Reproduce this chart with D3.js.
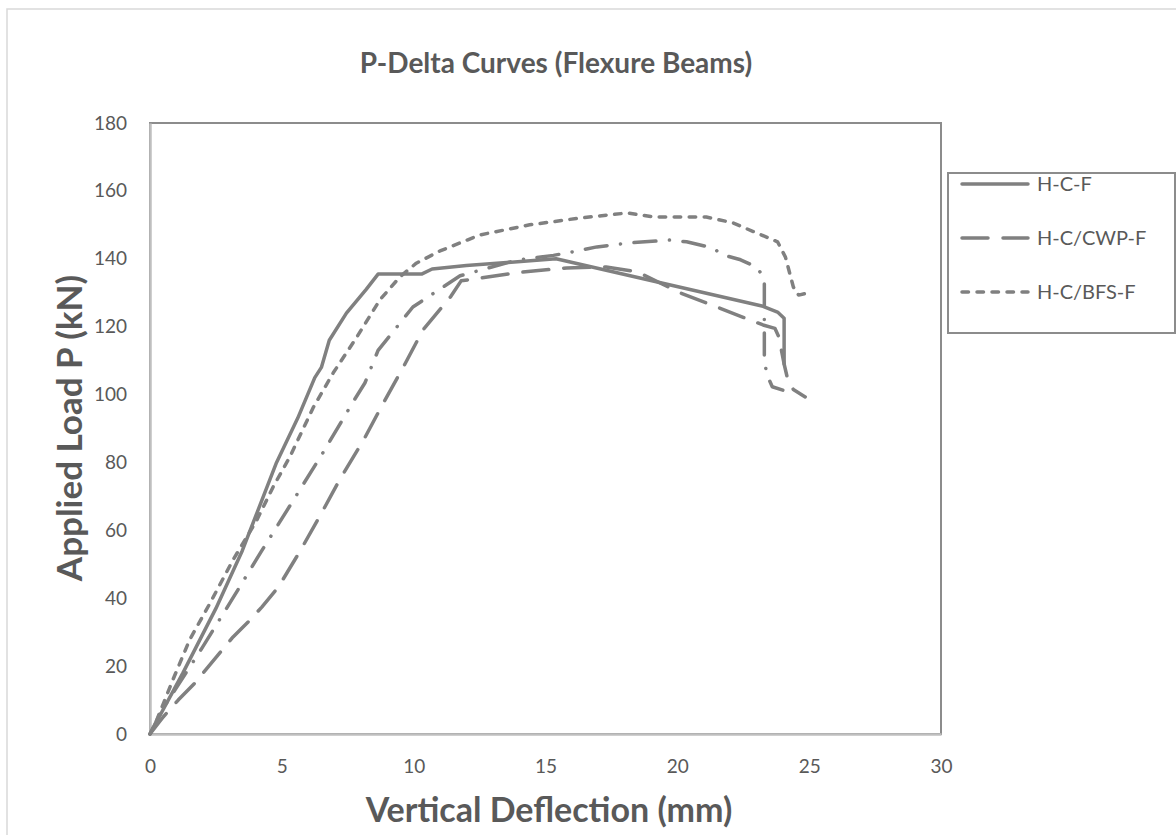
<!DOCTYPE html>
<html>
<head>
<meta charset="utf-8">
<script src="https://cdn.jsdelivr.net/npm/d3@7"></script>
<style>
  body { margin: 0; background: #fff; }
  text { font-family: Lato, "Liberation Sans", sans-serif; fill: #595959; }
</style>
</head>
<body>
<svg id="chart" width="1176" height="835"></svg>
<script>
// deflection (mm), load (kN)
let hcf = [[0,0],[1.25,18],[2.5,37],[3.5,54],[4.3,70],[4.8,80],[5.6,93],[6.25,105],[6.5,108],[6.8,116],[7.45,124],[8.2,131],[8.65,135.5],
           [10.3,135.5],[10.7,137],[12,138],[15.4,140],[23.25,126],[23.8,124.3],[24.05,122.5],[24.05,109]];
let hcCwp = [[0,0],[0.5,5],[1.07,10],[1.7,15],[3.15,28.6],[3.8,33.6],[4.24,37.4],[4.87,43.3],[5.7,54],[6.5,65],[7.2,75],[8.1,86.6],
             [8.85,97.5],[9.6,108],[10.35,119],[11.4,128.8],[11.8,133.5],[12.5,134.3],[14,136],[15.8,137.3],[17.3,137.6],[18.5,136.1],
             [20.1,130],[23.25,120.5],[23.7,119.5],[23.85,117],[24.05,109],[24.2,104],[24.4,101.5],[24.85,99.3]];
let hcBfs = [[0,0],[0.25,4],[0.87,16],[1.5,27.7],[2.28,38.6],[3.15,51.3],[4.05,63],[4.67,72.8],[5.3,81.6],[6.2,96.3],[6.95,106.4],
             [7.85,117],[8.72,127.9],[9.48,134.7],[10.1,138.7],[11,142.3],[12.5,147],[14.4,150],[16.3,152],[18.1,153.5],[19.1,152.3],
             [21.1,152.3],[22.1,150.6],[23.8,145],[24.1,140.5],[24.4,131.7],[24.6,129.3],[25,130]];
let hcOther = [[0,0],[0.45,7],[1.97,25.3],[3.1,39.5],[4.24,54],[5.4,68.4],[6.57,83],[7.7,97.8],[8.15,103.4],[8.65,113],[9.97,125.8],
               [11.76,135],[13.9,139.6],[15.3,141],[16,142],[16.95,143.5],[18.2,144.7],[19.7,145.5],[20.35,145],[21.35,143.2],
               [21.7,141.2],[22.4,139.7],[23,137.6],[23.3,134.3],[23.3,110],[23.4,105.8],[23.6,102.3],[24,101.3]];

let seriesNames = ['H-C-F','H-C/CWP-F','H-C/BFS-F',''];
let xTicks = [0,5,10,15,20,25,30];
let yTicks = [0,20,40,60,80,100,120,140,160,180];

let series = [
  {name: seriesNames[0], values: hcf,     dash: null,                legend: true},
  {name: seriesNames[1], values: hcCwp,   dash: '26,15',             legend: true},
  {name: seriesNames[2], values: hcBfs,   dash: '6.5,8.5',           legend: true},
  {name: seriesNames[3], values: hcOther, dash: '22,13.5,0.1,13.5',  legend: false}
];

let svg = d3.select('#chart');
let plot = {left: 150, right: 941, top: 123, bottom: 734};

let xScale = d3.scaleLinear().domain([0,30]).range([plot.left, plot.right]);
let yScale = d3.scaleLinear().domain([0,180]).range([plot.bottom, plot.top]);

// outer chart frame (runs off the right and bottom edges)
svg.append('rect')
  .attr('x',7).attr('y',9).attr('width',1200).attr('height',860)
  .attr('fill','none').attr('stroke','#d9d9d9').attr('stroke-width',1.5);

// plot frame
svg.append('rect')
  .attr('x',plot.left).attr('y',plot.top)
  .attr('width',plot.right-plot.left).attr('height',plot.bottom-plot.top)
  .attr('fill','none').attr('stroke','#8c8c8c').attr('stroke-width',2);

let xAxis = svg.append('g')
  .attr('transform',`translate(0,${plot.bottom})`)
  .call(d3.axisBottom(xScale).tickValues(xTicks).tickSize(0).tickPadding(26));
let yAxis = svg.append('g')
  .attr('transform',`translate(${plot.left},0)`)
  .call(d3.axisLeft(yScale).tickValues(yTicks).tickSize(0).tickPadding(23));
[xAxis, yAxis].forEach(function(a){
  a.select('.domain').attr('stroke','#bfbfbf').attr('stroke-width',2.5);
  a.selectAll('text').attr('font-size',19).attr('font-family','Lato, sans-serif').attr('fill','#595959');
});

let line = d3.line().x((d)=>xScale(d[0])).y((d)=>yScale(d[1]));

svg.append('g')
  .selectAll('path')
  .data(series)
  .enter()
  .append('path')
  .attr('d',(d)=>line(d.values))
  .attr('fill','none')
  .attr('stroke','#808080')
  .attr('stroke-width',3.5)
  .attr('stroke-linejoin','round')
  .attr('stroke-linecap','round')
  .attr('stroke-dasharray',(d)=>d.dash);

// titles
svg.append('text')
  .attr('x',556).attr('y',73)
  .attr('text-anchor','middle')
  .attr('font-size',28).attr('font-weight','bold')
  .text('P-Delta Curves (Flexure Beams)');
svg.append('text')
  .attr('x',549).attr('y',822)
  .attr('text-anchor','middle')
  .attr('font-size',34).attr('font-weight','bold')
  .text('Vertical Deflection (mm)');
svg.append('text')
  .attr('transform','translate(82,428) rotate(-90)')
  .attr('text-anchor','middle')
  .attr('font-size',35).attr('font-weight','bold')
  .text('Applied Load P (kN)');

// legend
let legend = svg.append('g').attr('transform','translate(948,173)');
legend.append('rect')
  .attr('width',227).attr('height',160)
  .attr('fill','#fff').attr('stroke','#8c8c8c').attr('stroke-width',2);
let item = legend.selectAll('g.item')
  .data(series.filter((d)=>d.legend))
  .enter()
  .append('g')
  .attr('class','item')
  .attr('transform',(d,i)=>`translate(0,${11 + i*54})`);
item.append('line')
  .attr('x1',14).attr('x2',80)
  .attr('stroke','#808080').attr('stroke-width',3.5)
  .attr('stroke-linecap','round')
  .attr('stroke-dasharray',(d)=>d.dash);
item.append('text')
  .attr('x',89).attr('dy','0.36em')
  .attr('font-size',20)
  .text((d)=>d.name);
</script>
</body>
</html>
